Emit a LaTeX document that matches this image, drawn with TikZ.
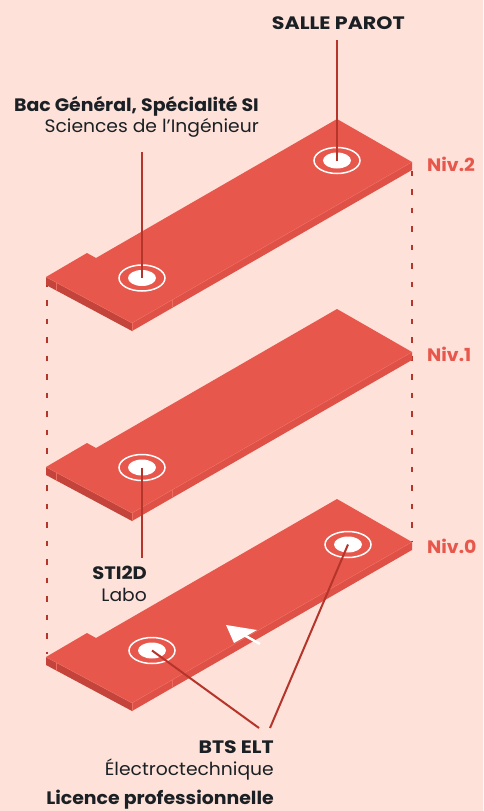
\documentclass[tikz,border=0pt]{standalone}
\usepackage{graphicx}
\usepackage{fontspec}
\setmainfont[FakeStretch=1.04]{Poppins}
\newfontfamily\bfam[FakeStretch=1.05]{Poppins Bold}
\definecolor{bgc}{HTML}{FEE1D9}
\definecolor{slab}{HTML}{E8574C}
\definecolor{sidea}{HTML}{C4443B}
\definecolor{sideb}{HTML}{DF5147}
\definecolor{seam}{HTML}{EC6C60}
\definecolor{wire}{HTML}{B5352B}
\definecolor{ink}{HTML}{1B2024}
\tikzset{
  x=1pt,y=-1pt,
  wireline/.style={draw=wire,line width=2pt},
  dashline/.style={draw=wire,line width=2pt,dash pattern=on 5.5pt off 13pt},
  ringouter/.style={draw=white,line width=1.5pt,ellipse,minimum width=46pt,minimum height=26pt,inner sep=0pt},
  ringinner/.style={fill=white,ellipse,minimum width=28pt,minimum height=16pt,inner sep=0pt},
  strong/.style={text=ink,anchor=east,inner sep=0pt,font=\bfam\fontsize{18}{20}\selectfont},
  plain/.style={text=ink,anchor=east,inner sep=0pt,font=\fontsize{18}{20}\selectfont},
  level/.style={text=slab,anchor=west,inner sep=0pt,font=\bfam\fontsize{18}{20}\selectfont},
  pics/slabplate/.style={code={
    \fill[sidea] (46,277)--(132,323)--(132,331)--(46,285)--cycle;
    \fill[sideb] (132,323)--(412,162)--(412,170)--(132,331)--cycle;
    \fill[slab] (46,277)--(87,253)--(96,258)--(337,119)--(412,162)--(132,323)--cycle;
    \draw[seam,line width=.4pt] (46,277)--(132,323)--(412,162);
    \draw[seam,line width=.4pt] (56,282.5)--(56,290.5) (172,300)--(172,308);
    \draw[seam,line width=.4pt] (132,323)--(132,331);
  }},
}
\usetikzlibrary{shapes.geometric}
\begin{document}
\begin{tikzpicture}
\useasboundingbox[fill=bgc] (0,0) rectangle (483,811);
% dashed uprights
\coordinate (dl1) at (46.8,285); \coordinate (dl2) at (46.8,653.5);
\coordinate (dr1) at (412.4,170.5); \coordinate (dr2) at (412.4,542);
\draw[dashline,dash phase=3.5pt] (dl1)--(dl2);
\draw[dashline] (dr1)--(dr2);
% plates
\pic at (0,380) {slabplate};
\pic at (0,190) {slabplate};
\pic at (0,0) {slabplate};
% rings
\node[ringouter] (r1o) at (337,160.5) {}; \node[ringinner] (r1) at (337,160.5) {};
\node[ringouter] (r2o) at (142,278) {}; \node[ringinner] (r2) at (142,278) {};
\node[ringouter] (r3o) at (142,467.5) {}; \node[ringinner] (r3) at (142,467.5) {};
\node[ringouter] (r4o) at (348,544.5) {}; \node[ringinner] (r4) at (348,544.5) {};
\node[ringouter] (r5o) at (152,650.5) {}; \node[ringinner] (r5) at (152,650.5) {};
% arrow
\coordinate (at) at (226,625);
\coordinate (as) at (260,644);
\fill[white] (at)--(257,630)--(234,643)--cycle;
\draw[white,line width=2.5pt] (244,635)--(as);
% labels
\node[strong] (salle) at (405,23) {\scalebox{1.09}[1]{SALLE PAROT}};
\node[strong] (bac) at (259,106) {Bac Général, Spécialité SI};
\node[plain] (sci) at (259,128) {Sciences de l’Ingénieur};
\node[strong] (sti) at (147,573) {\scalebox{1.03}[1]{STI2D}};
\node[plain] (labo) at (147,595) {Labo};
\node[strong] (bts) at (274,747) {\scalebox{1.08}[1]{BTS ELT}};
\node[plain] (elt) at (274,769) {Électroctechnique};
\node[strong] (lic) at (274,800) {Licence professionnelle};
\node[level] (n2) at (427,164) {Niv.2};
\node[level] (n1) at (427,354) {Niv.1};
\node[level] (n0) at (427,546) {Niv.0};
% connectors
\coordinate (c1) at (337,40);
\coordinate (c2) at (142,152);
\coordinate (c3) at (142,558);
\coordinate (c4) at (259,728);
\coordinate (c5) at (270,728);
\draw[wireline] (c1)--(r1.center);
\draw[wireline] (c2)--(r2.center);
\draw[wireline] (r3.center)--(c3);
\draw[wireline] (r5.center)--(c4);
\draw[wireline] (r4.center)--(c5);
\end{tikzpicture}
\end{document}
